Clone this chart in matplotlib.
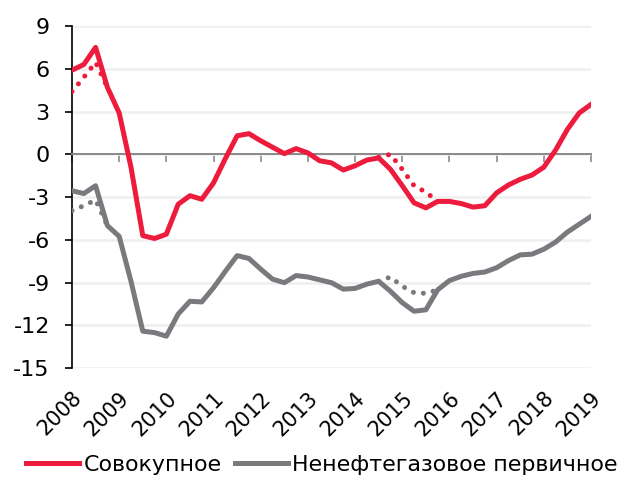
import matplotlib
matplotlib.use("Agg")
import matplotlib.pyplot as plt
import numpy as np

# quarterly observations, 2008Q1 .. 2019Q1
years = [2008, 2009, 2010, 2011, 2012, 2013, 2014, 2015, 2016, 2017, 2018, 2019]
quarters = 2008 + np.arange(45) / 4

total = [5.9, 6.3, 7.5, 4.7, 2.9, -0.9, -5.7, -5.9, -5.6, -3.5,
         -2.9, -3.15, -2.0, -0.3, 1.3, 1.45, 0.95, 0.5, 0.05, 0.4,
         0.1, -0.45, -0.6, -1.1, -0.8, -0.4, -0.25, -1.05, -2.2, -3.4,
         -3.75, -3.3, -3.3, -3.45, -3.7, -3.6, -2.7, -2.15, -1.75, -1.45,
         -0.9, 0.3, 1.75, 2.9, 3.5]
total_alt = [4.4, 5.4, 6.45, 4.7] + [None] * 22 + \
            [-0.2, 0.0, -1.05, -2.2, -2.65, -3.3] + [None] * 13

non_oil = [-2.55, -2.75, -2.2, -5.0, -5.75, -8.9, -12.4, -12.5, -12.75, -11.2,
           -10.3, -10.35, -9.35, -8.2, -7.1, -7.3, -8.05, -8.75, -9.0, -8.5,
           -8.6, -8.8, -9.0, -9.45, -9.4, -9.1, -8.9, -9.6, -10.4, -11.0,
           -10.9, -9.5, -8.85, -8.55, -8.35, -8.25, -7.95, -7.45, -7.05, -7.0,
           -6.65, -6.15, -5.45, -4.9, -4.35]
non_oil_alt = [-3.95, -3.6, -3.2, -5.0] + [None] * 22 + \
              [-8.9, -8.6, -9.25, -9.7, -9.75, -9.5] + [None] * 13

labels = ["Совокупное", "Ненефтегазовое первичное"]

RED = "#ED1B3C"
GRAY = "#7A7A7E"


def to_arr(vals):
    return np.array([np.nan if v is None else v for v in vals], dtype=float)


plt.rcParams["font.family"] = ["DejaVu Sans"]
plt.rcParams["axes.unicode_minus"] = False

fig = plt.figure(figsize=(6.25, 4.84), dpi=100)
ax = fig.add_axes([0.1152, 0.2391, 0.8304, 0.7072])

dots = (0, (0.01, 2.0))
ax.plot(quarters, to_arr(total_alt), color=RED, lw=3.6, ls=dots,
        dash_capstyle="round", zorder=3)
ax.plot(quarters, to_arr(non_oil_alt), color=GRAY, lw=3.6, ls=dots,
        dash_capstyle="round", zorder=3)
ax.plot(quarters, total, color=RED, lw=3.6, label=labels[0], zorder=4,
        solid_joinstyle="round")
ax.plot(quarters, non_oil, color=GRAY, lw=3.6, label=labels[1], zorder=4,
        solid_joinstyle="round")

ax.set_xlim(2008, 2019)
ax.set_ylim(-15, 9)
ax.set_yticks(range(-15, 10, 3))
ax.grid(axis="y", color="#EFEFEF", linewidth=1.8)
ax.set_axisbelow(True)

for s in ["top", "right"]:
    ax.spines[s].set_visible(False)
ax.spines["left"].set_color("black")
ax.spines["left"].set_linewidth(1.2)
ax.spines["bottom"].set_position(("data", 0))
ax.spines["bottom"].set_color("#8A8A8A")
ax.spines["bottom"].set_linewidth(1.4)

ax.set_xticks(years)
ax.tick_params(axis="x", direction="out", length=5.5, width=1.2,
               color="#8A8A8A", labelbottom=False)
ax.tick_params(axis="y", direction="out", length=5, width=1.2,
               color="black", pad=11, labelsize=16)

sec = ax.secondary_xaxis("bottom")
sec.set_xticks(years, labels=[str(y) for y in years])
sec.spines["bottom"].set_visible(False)
sec.tick_params(length=0, pad=14, labelsize=15)
for lab in sec.get_xticklabels():
    lab.set_rotation(45)
    lab.set_ha("right")
    lab.set_rotation_mode("anchor")

fig.legend(loc="center", bbox_to_anchor=(322 / 625, 1 - 465 / 484),
           ncol=2, frameon=False, fontsize=15.9, handlelength=2.4,
           handletextpad=0.2, columnspacing=0.6, borderaxespad=0)

fig.savefig("out.png", dpi=100)
